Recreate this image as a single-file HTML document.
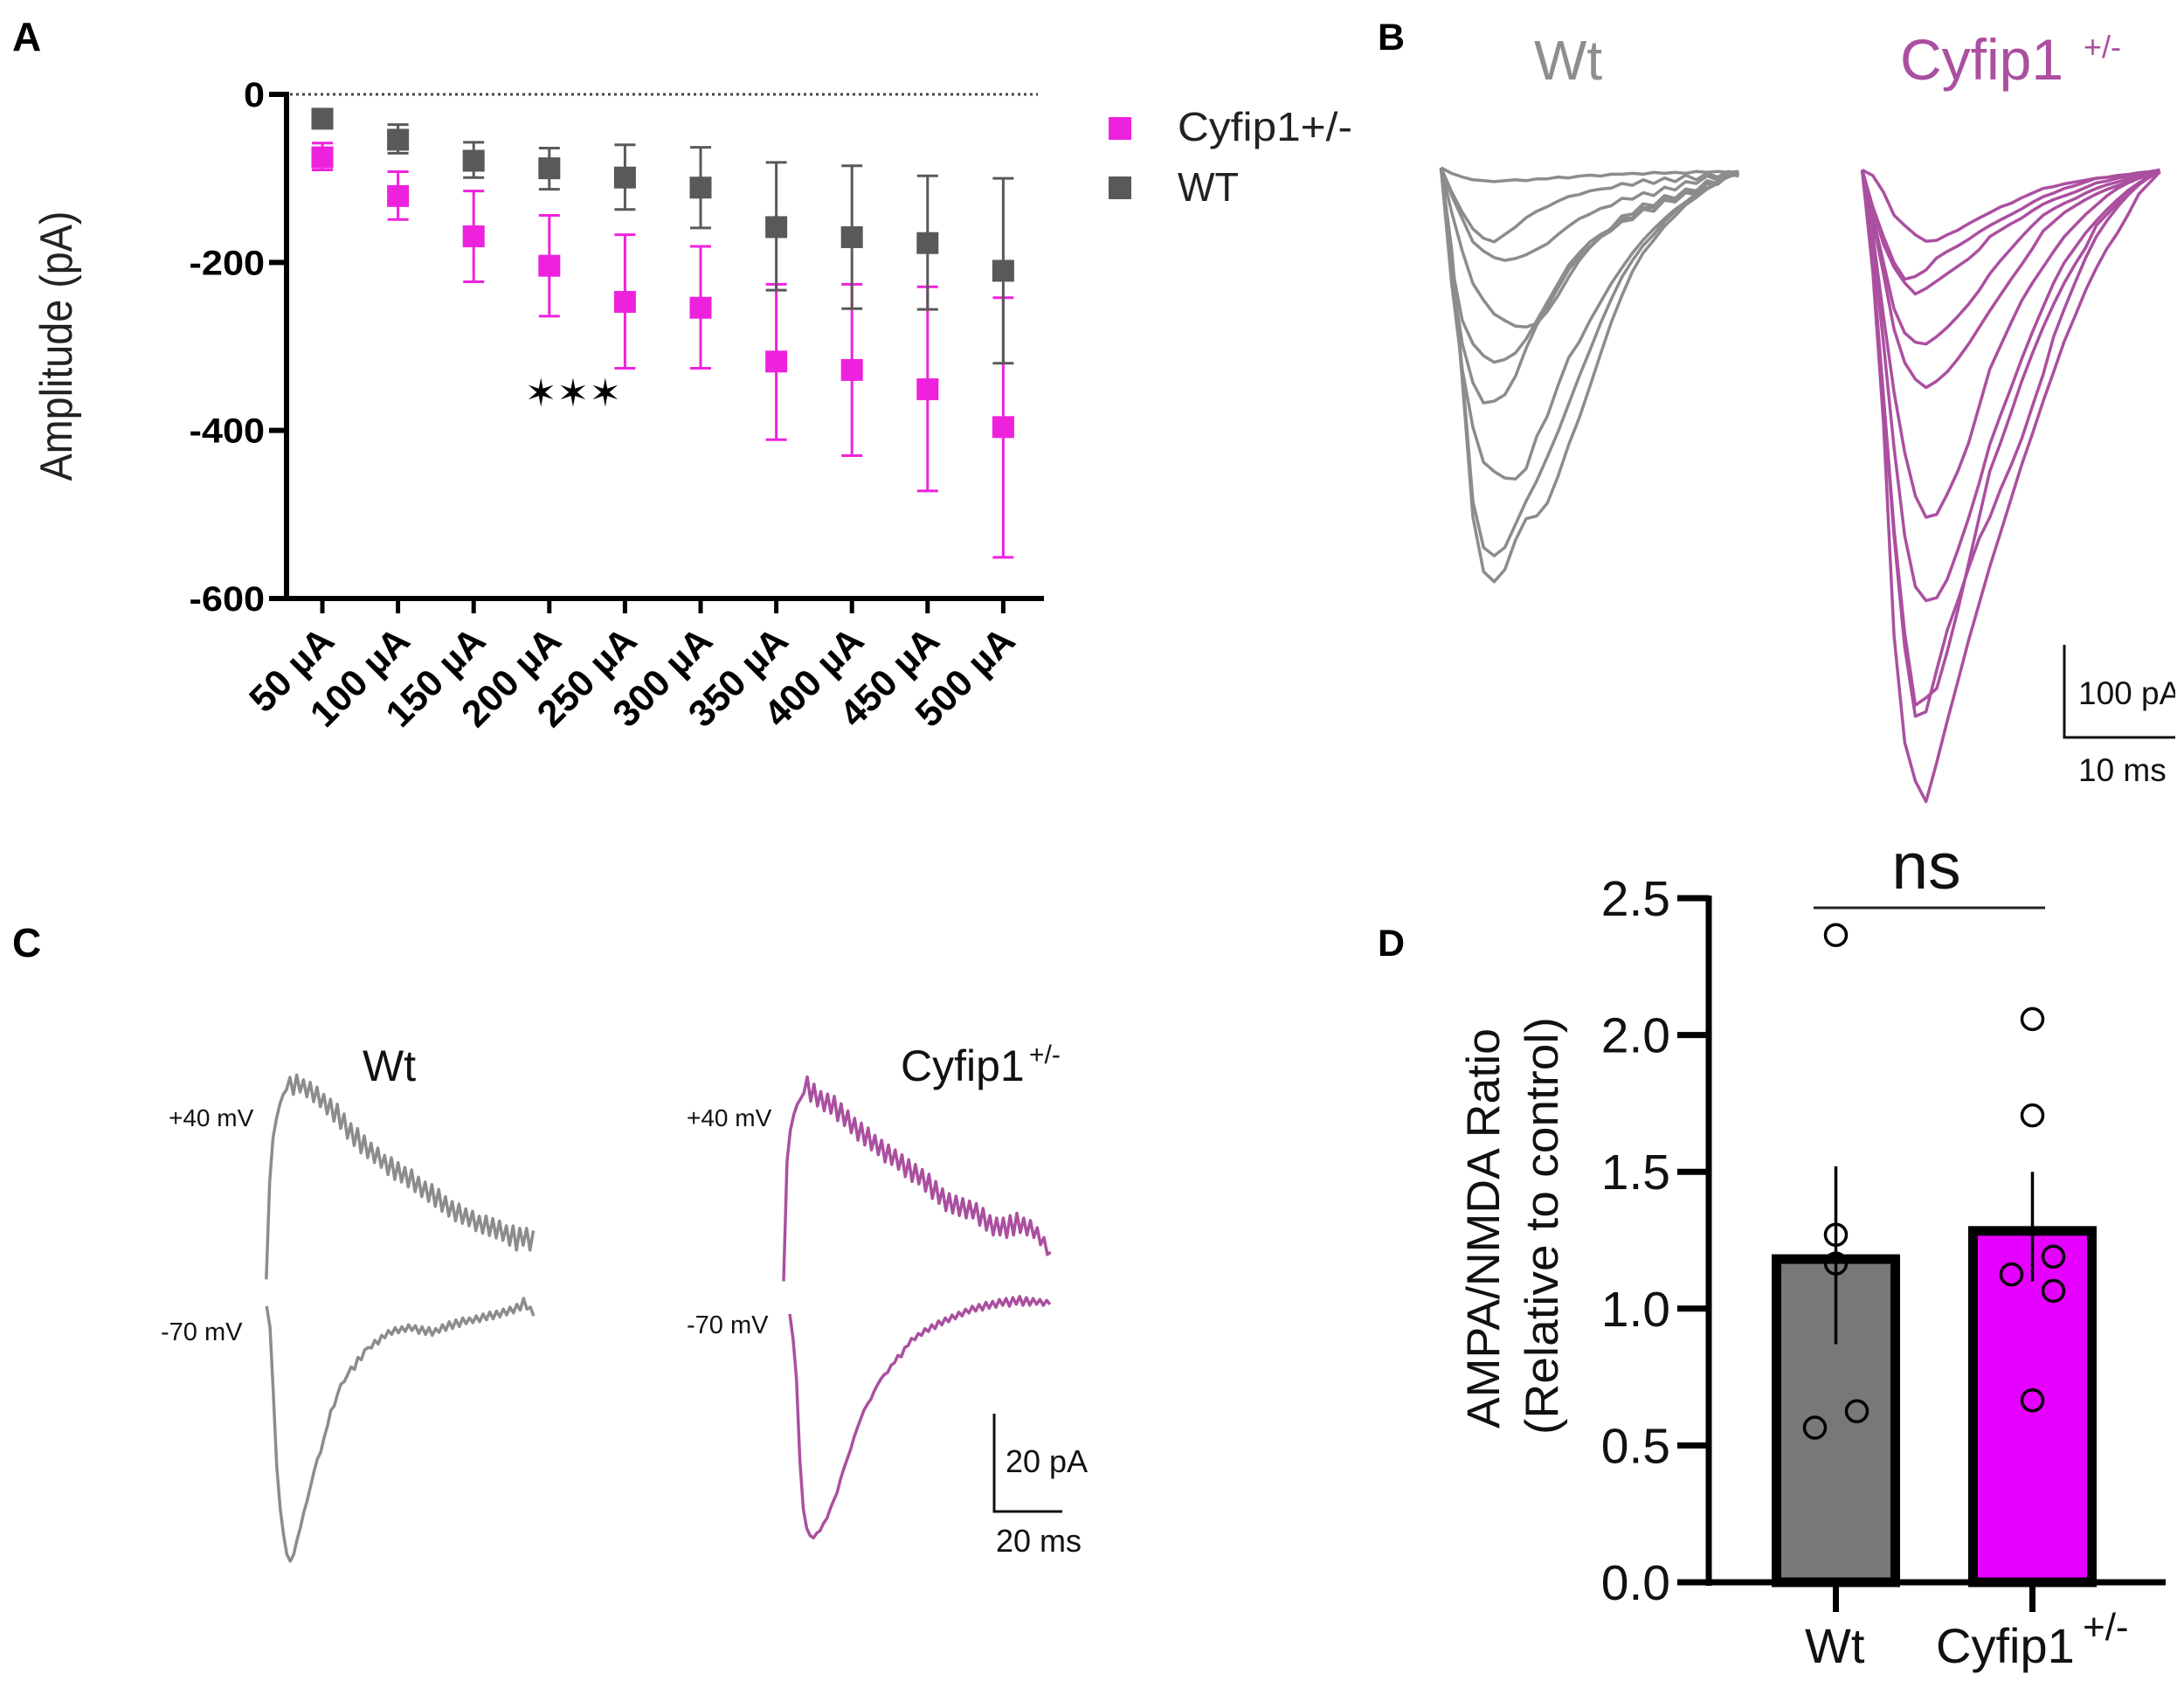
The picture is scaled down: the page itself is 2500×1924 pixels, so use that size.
<!DOCTYPE html>
<html lang="en">
<head>
<meta charset="utf-8">
<title>Cyfip1 electrophysiology figure</title>
<style>
html,body{margin:0;padding:0;background:#fff}
svg{display:block}
text{font-family:"Liberation Sans",sans-serif}
</style>
</head>
<body>
<svg id="figure" xmlns="http://www.w3.org/2000/svg" width="2500" height="1924" viewBox="0 0 2500 1924">
  <rect width="2500" height="1924" fill="#fff"/>
  <defs><clipPath id="clip-b"><rect x="0" y="0" width="2490" height="1924"/></clipPath></defs>

  <g id="panel-a">
    <text x="14" y="58" font-size="46" font-weight="bold">A</text>
    <text transform="translate(82,396) rotate(-90)" text-anchor="middle" font-size="52" textLength="309" lengthAdjust="spacingAndGlyphs" fill="#222">Amplitude (pA)</text>
    <text x="656" y="465" text-anchor="middle" font-size="44" style="font-family:'DejaVu Sans',sans-serif">✶✶✶</text>
    <rect x="1269" y="134" width="26" height="26" fill="#ee22dd"/>
    <text x="1348" y="161" font-size="46" textLength="200" lengthAdjust="spacingAndGlyphs" fill="#222">Cyfip1+/-</text>
    <rect x="1269" y="202" width="26" height="26" fill="#595959"/>
    <text x="1348" y="230" font-size="46" textLength="70" lengthAdjust="spacingAndGlyphs" fill="#222">WT</text>
  </g>

  <g id="panel-b">
    <text x="1577" y="57" font-size="43" font-weight="bold">B</text>
    <text x="1756" y="91" font-size="64" fill="#8e8e8e">Wt</text>
    <text x="2175" y="91" font-size="66" fill="#ab4fa0">Cyfip1</text>
    <text x="2385" y="66" font-size="36" fill="#ab4fa0">+/-</text>
    <path d="M2363 738V844H2490" fill="none" stroke="#111" stroke-width="3"/>
    <text x="2379" y="806" font-size="37" fill="#111" clip-path="url(#clip-b)">100 pA</text>
    <text x="2379" y="894" font-size="37" fill="#111">10 ms</text>
  </g>

  <g id="panel-c">
    <text x="14" y="1095" font-size="46" font-weight="bold">C</text>
    <text x="415" y="1237" font-size="50" fill="#111">Wt</text>
    <text x="1031" y="1237" font-size="50" fill="#111">Cyfip1</text>
    <text x="1178" y="1217" font-size="30" fill="#111">+/-</text>
    <text x="193" y="1289" font-size="28" fill="#111">+40 mV</text>
    <text x="184" y="1534" font-size="29" fill="#111">-70 mV</text>
    <text x="786" y="1289" font-size="28" fill="#111">+40 mV</text>
    <text x="786" y="1526" font-size="29" fill="#111">-70 mV</text>
    <path d="M1138 1618V1730H1216" fill="none" stroke="#111" stroke-width="3"/>
    <text x="1151" y="1685" font-size="36" fill="#111">20 pA</text>
    <text x="1140" y="1776" font-size="36" fill="#111">20 ms</text>
  </g>

  <g id="panel-d">
    <text x="1577" y="1094" font-size="43" font-weight="bold">D</text>
    <text transform="translate(1716,1406) rotate(-90)" text-anchor="middle" font-size="53" textLength="458" lengthAdjust="spacingAndGlyphs" fill="#111">AMPA/NMDA Ratio</text>
    <text transform="translate(1783,1403) rotate(-90)" text-anchor="middle" font-size="53" textLength="478" lengthAdjust="spacingAndGlyphs" fill="#111">(Relative to control)</text>
    <text x="2205" y="1017" text-anchor="middle" font-size="75" fill="#111">ns</text>
    <line x1="2076" x2="2341" y1="1039" y2="1039" stroke="#222" stroke-width="3"/>
    <text x="2066" y="1903" font-size="56" fill="#111">Wt</text>
    <text x="2216" y="1903" font-size="56" fill="#111">Cyfip1</text>
    <text x="2384" y="1877" font-size="44" fill="#111">+/-</text>
  </g>
</svg>

<script>
/* ---------- Panel A data ---------- */
const stimulusLabels = ['50 µA','100 µA','150 µA','200 µA','250 µA','300 µA','350 µA','400 µA','450 µA','500 µA'];
const aTickValues = [0, -200, -400, -600];
const cyfipMeans = [-75, -121, -169, -204, -247, -254, -318, -328, -351, -396];
const cyfipUpper = [-58, -92, -115, -144, -167, -181, -226, -226, -229, -242];
const cyfipLower = [-90, -149, -223, -264, -326, -326, -411, -430, -472, -551];
const wtMeans = [-29, -54, -79, -88, -99, -111, -158, -170, -177, -210];
const wtUpper = [-22, -36, -57, -64, -60, -63, -81, -85, -97, -100];
const wtLower = [-36, -70, -99, -113, -137, -159, -233, -255, -256, -320];

/* ---------- Panel B data: evoked currents, pA at 1 ms samples ---------- */
const bSampleMs = 1;
const bWtTrace1 = [0,-6,-10,-13,-14,-15,-14,-13,-14,-12,-12,-10,-11,-9,-8,-9,-7,-7,-6,-7,-5,-6,-5,-6,-4,-5,-4,-5,-4];
const bWtTrace2 = [0,-26,-48,-66,-76,-80,-72,-64,-54,-47,-42,-36,-31,-29,-25,-23,-22,-17,-19,-13,-17,-11,-15,-8,-13,-6,-10,-4,-7];
const bWtTrace3 = [0,-30,-55,-80,-90,-97,-100,-98,-94,-88,-82,-72,-63,-55,-50,-44,-41,-33,-34,-27,-30,-21,-24,-15,-17,-9,-13,-5,-7];
const bWtTrace4 = [0,-48,-90,-125,-143,-158,-165,-171,-172,-168,-155,-138,-118,-100,-86,-75,-65,-52,-50,-39,-41,-30,-33,-23,-25,-14,-17,-7,-9];
const bWtTrace5 = [0,-105,-165,-190,-203,-210,-207,-200,-185,-165,-145,-125,-105,-92,-80,-72,-66,-55,-54,-43,-43,-33,-35,-25,-27,-15,-17,-7,-8];
const bWtTrace6 = [0,-115,-190,-232,-254,-252,-245,-225,-195,-170,-150,-130,-110,-96,-85,-75,-68,-58,-56,-45,-47,-35,-37,-27,-29,-17,-18,-8,-8];
const bWtTrace7 = [0,-125,-218,-280,-318,-328,-335,-336,-325,-290,-268,-235,-205,-188,-165,-145,-125,-108,-92,-78,-66,-55,-45,-37,-28,-22,-16,-9,-5];
const bWtTrace8 = [0,-88,-222,-360,-410,-419,-410,-385,-360,-338,-312,-285,-255,-225,-197,-168,-142,-118,-100,-84,-72,-58,-47,-37,-29,-22,-15,-10,-6];
const bWtTrace9 = [0,-92,-230,-377,-436,-447,-434,-402,-379,-376,-362,-333,-299,-270,-236,-201,-167,-138,-112,-92,-78,-63,-52,-40,-32,-23,-17,-9,-5];
const bCyfipTrace1 = [0,-6,-24,-49,-60,-70,-77,-76,-70,-65,-58,-52,-46,-40,-36,-30,-25,-20,-18,-15,-13,-11,-9,-8,-6,-5,-3,-2,0];
const bCyfipTrace2 = [0,-40,-72,-100,-118,-115,-108,-95,-88,-82,-75,-67,-60,-54,-48,-42,-35,-29,-25,-20,-17,-13,-9,-8,-6,-5,-3,-2,0];
const bCyfipTrace3 = [0,-42,-80,-105,-122,-134,-128,-120,-112,-104,-96,-86,-72,-65,-58,-52,-44,-37,-32,-28,-24,-19,-14,-12,-9,-7,-5,-3,-1];
const bCyfipTrace4 = [0,-50,-100,-150,-176,-186,-188,-180,-170,-158,-145,-130,-112,-98,-85,-72,-60,-49,-42,-36,-31,-25,-20,-16,-13,-10,-7,-4,-2];
const bCyfipTrace5 = [0,-55,-112,-172,-208,-226,-235,-228,-218,-204,-188,-170,-152,-135,-118,-102,-85,-66,-56,-46,-39,-32,-26,-21,-17,-13,-9,-5,-2];
const bCyfipTrace6 = [0,-70,-158,-240,-305,-352,-375,-372,-350,-325,-295,-255,-215,-190,-165,-141,-122,-105,-88,-72,-60,-48,-38,-28,-20,-14,-9,-5,-2];
const bCyfipTrace7 = [0,-80,-187,-300,-395,-450,-465,-462,-442,-410,-376,-338,-296,-265,-235,-204,-175,-148,-122,-100,-84,-68,-55,-43,-32,-22,-14,-7,-2];
const bCyfipTrace8 = [0,-100,-244,-388,-500,-578,-570,-560,-520,-475,-425,-375,-325,-295,-262,-228,-198,-170,-145,-122,-102,-84,-60,-48,-36,-25,-15,-7,-2];
const bCyfipTrace9 = [0,-105,-250,-395,-515,-590,-585,-540,-497,-465,-430,-398,-375,-345,-319,-290,-255,-221,-180,-150,-122,-95,-72,-55,-40,-27,-16,-8,-2];
const bCyfipTrace10 = [0,-110,-273,-503,-618,-660,-682,-640,-595,-552,-508,-468,-428,-392,-355,-318,-285,-250,-218,-185,-158,-130,-106,-85,-68,-48,-26,-14,-2];

/* ---------- Panel C data: pA at 1 ms samples ---------- */
const cSampleMs = 1;
const cWtPlus40 = [0,20,29,33,36,38,39,41.5,38,42,38.5,41,37.5,40.5,36.5,39.5,35.5,38,34,37,32.5,36,31,34,29,32,27.5,31,26,29.5,25,28,24,27,23,25.5,21.5,25,20.5,24,20,23,19,22.5,18,21,17,20,16,19.5,15,18.5,14,17,13,16,12,15.5,11.5,14.5,11,14,10,13,9.5,13,9,12.5,8.5,12,8,11,7,11,6,10.5,7,10.5,6,10];
const cWtMinus70 = [0,-4.4,-18,-33,-41.5,-47,-51,-52.4,-51,-48,-45.5,-42.3,-40,-37,-34,-31.4,-30,-27,-24.6,-21.4,-20.5,-18,-16,-15.5,-14,-12.5,-13,-10.5,-11,-9,-8.5,-8.6,-7,-7.8,-6,-6.5,-5,-5.8,-4.4,-5.5,-4.2,-5.2,-3.8,-5,-4,-5.6,-4.2,-5.8,-4.4,-6,-4.6,-5.4,-3.8,-5,-3.2,-4.6,-2.8,-4.2,-2.4,-3.6,-2.4,-3.4,-2,-3.2,-1.6,-2.8,-1.2,-2.6,-1,-2.2,-0.6,-1.8,-0.2,-1.4,0.4,-0.8,1.6,-0.6,-0.2,-2];
const cCyfipPlus40 = [0,24.6,31,34.2,36.3,37.5,38.7,42,37,40.5,36,39,35,38.5,34.5,38,33,36.5,32,35,30.5,33.5,29,32.5,28,31.5,27,30,26,29,24.5,28,24,27,23,26,21.5,25,20.5,24,20,23,18.5,22,17,20.5,16,19,14.5,18,14,17.5,13.5,17,13,16.5,13,16,11.5,15,10.5,13.5,9.5,13,9.5,13,9,13.5,9.5,14,10,13,9.5,12.5,9,11,7.5,9,5.5,6];
const cCyfipMinus70 = [0,-5.2,-13.3,-30,-40,-44,-45.5,-46,-45,-44.5,-43,-42,-40,-38.3,-36.7,-34,-31.8,-29.8,-27.8,-25.4,-23.4,-21.5,-19.7,-18.5,-17.5,-15.8,-14.5,-13.3,-12.4,-12,-10.5,-10,-8.5,-8.8,-6.9,-6.5,-5,-5.3,-4,-4.4,-3,-3.6,-2.2,-3,-1.4,-2.2,-0.8,-1.6,-0.2,-1,0.4,-0.4,1,0.2,1.6,0.6,2,0.8,2.4,1.2,2.6,1.4,3,1.8,3.2,1.6,3.4,2,3.6,1.8,3.4,1.8,3.2,2,3,1.8,2.8,2];

/* ---------- Panel D data ---------- */
const dCategories = ['Wt', 'Cyfip1+/-'];
const dTickLabels = ['0.0', '0.5', '1.0', '1.5', '2.0', '2.5'];
const dBarMeans = [1.197, 1.30];
const dErrUpper = [1.52, 1.50];
const dErrLower = [0.87, 1.10];
const dWtPoints = [2.365, 1.27, 1.165, 0.565, 0.625];
const dWtSides = [0, 0, 0, -1, 1];
const dCyfipPoints = [2.058, 1.706, 1.19, 1.125, 1.065, 0.665];
const dCyfipSides = [0, 0, 1, -1, 1, 0];

/* ---------- Helpers ---------- */
const SVG_NS = 'http://www.w3.org/2000/svg';
function make(tag, attrs, parent) {
  const node = document.createElementNS(SVG_NS, tag);
  for (const key in attrs) node.setAttribute(key, attrs[key]);
  parent.appendChild(node);
  return node;
}
function tracePath(values, sampleStep, xFn, yFn) {
  return values.map(function (v, i) {
    return (i ? 'L' : 'M') + xFn(i * sampleStep).toFixed(1) + ' ' + yFn(v).toFixed(1);
  }).join('');
}

/* ---------- Panel A ---------- */
const panelA = document.getElementById('panel-a');
const aX = function (i) { return 369 + i * 86.6; };
const aY = function (v) { return 108 - v * (577 / 600); };

const dottedZero = make('line', {x1: 332, x2: 1188, y1: aY(0), y2: aY(0), stroke: '#444', 'stroke-width': 3, 'stroke-dasharray': '3 4'}, panelA);



const aYAxis = make('line', {x1: 328, x2: 328, y1: aY(0) - 3, y2: aY(-600) + 3, stroke: '#000', 'stroke-width': 6}, panelA);



const aXAxis = make('line', {x1: 308, x2: 1195, y1: aY(-600), y2: aY(-600), stroke: '#000', 'stroke-width': 6}, panelA);



aTickValues.forEach(function (v) {
  const tick = make('line', {x1: 308, x2: 328, y1: aY(v), y2: aY(v), stroke: '#000', 'stroke-width': 6}, panelA);
  
  
  const label = make('text', {transform: 'translate(303,' + (aY(v) + 14) + ') scale(1.08,1)', 'text-anchor': 'end', 'font-size': 40, 'font-weight': 'bold'}, panelA);
  
  
  label.textContent = String(v);
});

stimulusLabels.forEach(function (name, i) {
  const tick = make('line', {x1: aX(i), x2: aX(i), y1: aY(-600), y2: 702, stroke: '#000', 'stroke-width': 5}, panelA);
  
  
  const label = make('text', {transform: 'translate(' + (aX(i) + 16) + ',736) rotate(-45)', 'text-anchor': 'end', 'font-size': 43, 'font-weight': 'bold'}, panelA);
  
  
  label.textContent = name;
});

function drawSeries(means, upper, lower, color, seriesName) {
  means.forEach(function (m, i) {
    const stem = make('line', {x1: aX(i), x2: aX(i), y1: aY(upper[i]), y2: aY(lower[i]), stroke: color, 'stroke-width': 3}, panelA);
    
    
    const capTop = make('line', {x1: aX(i) - 12, x2: aX(i) + 12, y1: aY(upper[i]), y2: aY(upper[i]), stroke: color, 'stroke-width': 3}, panelA);
    
    
    const capBottom = make('line', {x1: aX(i) - 12, x2: aX(i) + 12, y1: aY(lower[i]), y2: aY(lower[i]), stroke: color, 'stroke-width': 3}, panelA);
    
    
  });
  means.forEach(function (m, i) {
    const marker = make('rect', {x: aX(i) - 12.5, y: aY(m) - 12.5, width: 25, height: 25, fill: color}, panelA);
    
    
  });
}
drawSeries(cyfipMeans, cyfipUpper, cyfipLower, '#ee22dd', 'cyfip1');
drawSeries(wtMeans, wtUpper, wtLower, '#595959', 'wt');

/* ---------- Panel B ---------- */
const panelB = document.getElementById('panel-b');
const bPxPerMs = 12.18;
const bPxPerPa = 1.06;
const bWtX = function (t) { return 1649.5 + t * bPxPerMs; };
const bWtY = function (v) { return 192 - v * bPxPerPa; };
const bCyX = function (t) { return 2131.6 + t * bPxPerMs; };
const bCyY = function (v) { return 194.5 - v * bPxPerPa; };

[bWtTrace1, bWtTrace2, bWtTrace3, bWtTrace4, bWtTrace5, bWtTrace6, bWtTrace7, bWtTrace8, bWtTrace9].forEach(function (values) {
  const trace = make('path', {d: tracePath(values, bSampleMs, bWtX, bWtY), fill: 'none', stroke: '#8c8c8c', 'stroke-width': 3.5, 'stroke-linejoin': 'round'}, panelB);
  
  
});
[bCyfipTrace1, bCyfipTrace2, bCyfipTrace3, bCyfipTrace4, bCyfipTrace5, bCyfipTrace6, bCyfipTrace7, bCyfipTrace8, bCyfipTrace9, bCyfipTrace10].forEach(function (values) {
  const trace = make('path', {d: tracePath(values, bSampleMs, bCyX, bCyY), fill: 'none', stroke: '#ab4fa0', 'stroke-width': 3.5, 'stroke-linejoin': 'round'}, panelB);
  
  
});

/* ---------- Panel C ---------- */
const panelC = document.getElementById('panel-c');
const cPxPerMs = 3.87;
const cPxPerPa = 5.57;
function cAxisX(origin) { return function (t) { return origin + t * cPxPerMs; }; }
function cAxisY(origin) { return function (v) { return origin - v * cPxPerPa; }; }

const wtPlus40Trace = make('path', {d: tracePath(cWtPlus40, cSampleMs, cAxisX(304.8), cAxisY(1464.3)), fill: 'none', stroke: '#8c8c8c', 'stroke-width': 3.5, 'stroke-linejoin': 'round'}, panelC);



const wtMinus70Trace = make('path', {d: tracePath(cWtMinus70, cSampleMs, cAxisX(305.2), cAxisY(1495)), fill: 'none', stroke: '#8c8c8c', 'stroke-width': 3.5, 'stroke-linejoin': 'round'}, panelC);



const cyfipPlus40Trace = make('path', {d: tracePath(cCyfipPlus40, cSampleMs, cAxisX(897), cAxisY(1466.5)), fill: 'none', stroke: '#ab4fa0', 'stroke-width': 3.5, 'stroke-linejoin': 'round'}, panelC);



const cyfipMinus70Trace = make('path', {d: tracePath(cCyfipMinus70, cSampleMs, cAxisX(904), cAxisY(1504)), fill: 'none', stroke: '#ab4fa0', 'stroke-width': 3.5, 'stroke-linejoin': 'round'}, panelC);



/* ---------- Panel D ---------- */
const panelD = document.getElementById('panel-d');
const dY = function (v) { return 1811 - v * 313.2; };
const dX = function (i) { return 2101.5 + i * 225; };
const dBarHalfWidth = 68;
const dBarFills = ['#787878', '#e600ff'];
const dJitterStep = 24;

dBarMeans.forEach(function (mean, i) {
  const bar = make('rect', {x: dX(i) - dBarHalfWidth, y: dY(mean) + 5, width: dBarHalfWidth * 2, height: dY(0) - dY(mean) - 5, fill: dBarFills[i], stroke: '#000', 'stroke-width': 11}, panelD);
  
  
});

const dYAxis = make('line', {x1: 1956, x2: 1956, y1: dY(2.5) - 3, y2: dY(0) + 4, stroke: '#000', 'stroke-width': 7}, panelD);



const dXAxis = make('line', {x1: 1920, x2: 2479, y1: dY(0), y2: dY(0), stroke: '#000', 'stroke-width': 7}, panelD);



dTickLabels.forEach(function (text) {
  const value = parseFloat(text);
  const tick = make('line', {x1: 1920, x2: 1956, y1: dY(value), y2: dY(value), stroke: '#000', 'stroke-width': 7}, panelD);
  
  
  const label = make('text', {x: 1912, y: dY(value) + 20, 'text-anchor': 'end', 'font-size': 57, fill: '#111'}, panelD);
  
  
  label.textContent = text;
});

dCategories.forEach(function (name, i) {
  const tick = make('line', {x1: dX(i), x2: dX(i), y1: dY(0), y2: 1845, stroke: '#000', 'stroke-width': 7}, panelD);
  
  
  const errorBar = make('line', {x1: dX(i), x2: dX(i), y1: dY(dErrUpper[i]), y2: dY(dErrLower[i]), stroke: '#000', 'stroke-width': 3.5}, panelD);
  
  
});

function drawPoints(values, sides, barIndex, seriesName) {
  values.forEach(function (v, i) {
    const dot = make('ellipse', {cx: dX(barIndex) + sides[i] * dJitterStep, cy: dY(v), rx: 12, ry: 12, fill: 'none', stroke: '#000', 'stroke-width': 3.5}, panelD);
    
    
  });
}
drawPoints(dWtPoints, dWtSides, 0, 'wt');
drawPoints(dCyfipPoints, dCyfipSides, 1, 'cyfip1');
</script>
</body>
</html>
